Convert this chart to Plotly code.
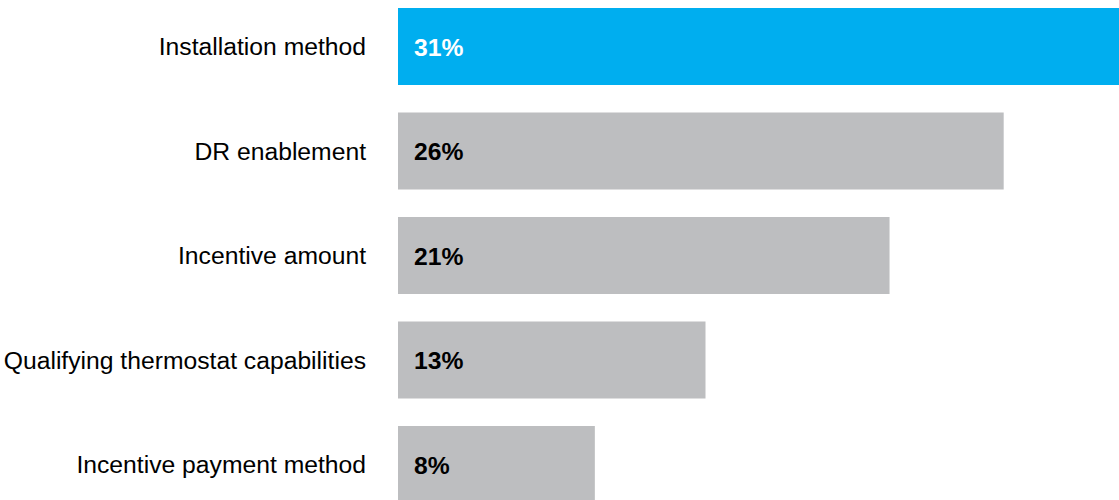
import plotly.graph_objects as go

categories = ["Installation method", "DR enablement", "Incentive amount",
              "Qualifying thermostat capabilities", "Incentive payment method"]
values = [31.0, 26.0, 21.1, 13.2, 8.45]
labels = ["31%", "26%", "21%", "13%", "8%"]
colors = ["#00AEEF", "#BDBEC0", "#BDBEC0", "#BDBEC0", "#BDBEC0"]
label_colors = ["#FFFFFF", "#000000", "#000000", "#000000", "#000000"]

FONT = "Liberation Sans, Arial, sans-serif"
FS = 24.7

fig = go.Figure()
fig.add_trace(go.Bar(
    x=values, y=list(range(len(categories))), orientation="h",
    marker=dict(color=colors, line=dict(width=0)),
    width=0.737, hoverinfo="skip",
))

for i, (v, t, c) in enumerate(zip(values, labels, label_colors)):
    fig.add_annotation(x=0, y=i, xref="x", yref="y", text=f"<b>{t}</b>",
                       showarrow=False, xanchor="left", yanchor="middle",
                       xshift=14, yshift=-1, font=dict(family=FONT, size=FS, color=c))

fig.update_layout(
    width=1119, height=500,
    margin=dict(l=398, r=0, t=0, b=0),
    paper_bgcolor="white", plot_bgcolor="white",
    showlegend=False,
    font=dict(family=FONT, size=FS, color="#000000"),
    xaxis=dict(range=[0, 30.95], visible=False, fixedrange=True),
    yaxis=dict(range=[4.34, -0.445], tickmode="array",
               tickvals=list(range(len(categories))), ticktext=categories,
               showgrid=False, zeroline=False, showline=False, ticks="",
               ticklabelstandoff=31,
               tickfont=dict(family=FONT, size=FS, color="#000000")),
)

fig.write_html("out.html")
